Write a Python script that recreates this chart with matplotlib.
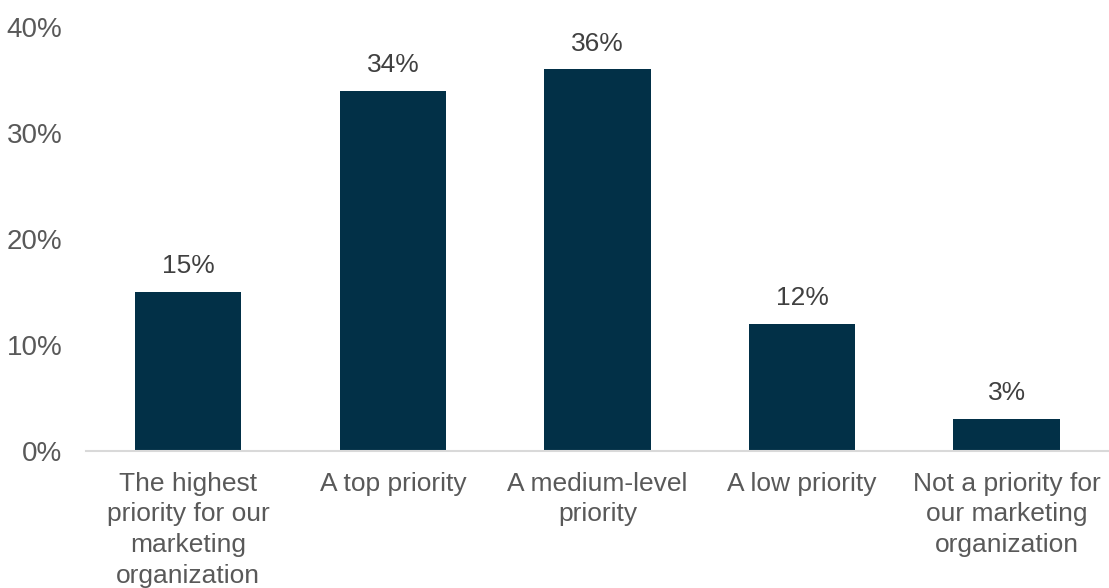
import matplotlib.pyplot as plt
import numpy as np

categories = ["The highest\npriority for our\nmarketing\norganization",
              "A top priority",
              "A medium-level\npriority",
              "A low priority",
              "Not a priority for\nour marketing\norganization"]
values = [15, 34, 36, 12, 3]
yticks = [0, 10, 20, 30, 40]

plt.rcParams['font.family'] = ['Liberation Sans', 'DejaVu Sans']
grey = '#595959'

fig = plt.figure(figsize=(11.09, 5.88), dpi=100)
ax = fig.add_axes([0.0775, 0.233, 0.9225, 0.721])

x = np.arange(len(values))
ax.bar(x, values, width=0.52, color='#023047')
for xi, v in zip(x, values):
    ax.annotate(f"{v}%", (xi, v), xytext=(0, 10), textcoords='offset points',
                ha='center', va='bottom', fontsize=19, color='#404040')

ax.set_xlim(-0.5, len(values) - 0.5)
ax.set_ylim(0, 40)
ax.set_yticks(yticks)
ax.set_yticklabels([f"{t}%" for t in yticks], fontsize=20, color=grey)
ax.set_xticks(x)
ax.set_xticklabels(categories, fontsize=19, color=grey, linespacing=1.35)
ax.tick_params(axis='both', length=0)
ax.tick_params(axis='x', pad=15)
ax.tick_params(axis='y', pad=17)

for s in ['top', 'right', 'left']:
    ax.spines[s].set_visible(False)
ax.spines['bottom'].set_color('#d9d9d9')
ax.spines['bottom'].set_linewidth(1.5)

fig.savefig('out.png', dpi=100)
